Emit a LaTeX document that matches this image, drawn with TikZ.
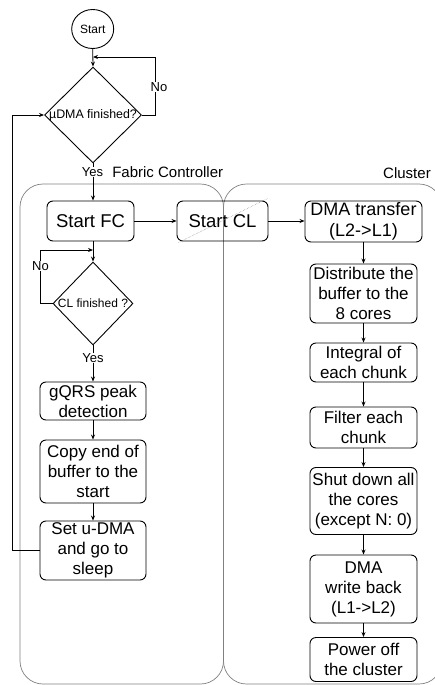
\documentclass[tikz,border=0pt]{standalone}
\usepackage{fontspec}
\setmainfont{Liberation Sans}
\usetikzlibrary{shapes.geometric,arrows.meta,calc}
\begin{document}
\begin{tikzpicture}[x=1pt,y=-1pt,
  box/.style={draw,rounded corners=6pt,line width=0.9pt,align=center,inner sep=0pt,
    font=\fontsize{17}{20}\selectfont},
  dia/.style={draw,diamond,line width=0.9pt,inner sep=0pt},
  arr/.style={-{Stealth[length=5pt,width=4pt]},line width=0.8pt},
  lbl/.style={fill=white,inner sep=0.6pt,font=\fontsize{13}{15}\selectfont},
  cont/.style={draw=black!50,line width=0.7pt,rounded corners=23pt},
  title/.style={font=\fontsize{15}{17}\selectfont,inner sep=0pt}]
\useasboundingbox (0,0) rectangle (435,685);
% containers
\draw[cont] (20,184) rectangle (223.5,684);
\draw[cont] (223.5,184) rectangle (442,684);
\node[title] (tfc) at (167.7,172) {Fabric Controller};
\node[title] (tcl) at (407,173) {Cluster};
% left column
\node[draw,ellipse,line width=0.9pt,minimum width=42pt,minimum height=39pt,inner sep=0pt,
  font=\fontsize{12}{14}\selectfont] (start) at (92.7,29) {Start};
\node[dia,minimum width=97pt,minimum height=96pt] (d1) at (93,115) {};
\node[font=\fontsize{12.4}{14}\selectfont,inner sep=0pt] (t1) at (d1) {µDMA finished?};
\node[box,minimum width=87pt,minimum height=40pt,font=\fontsize{18.5}{21}\selectfont] (sfc) at (90.5,221) {Start FC};
\node[box,minimum width=91pt,minimum height=40pt,font=\fontsize{18.5}{21}\selectfont] (scl) at (222.5,221) {Start CL};
\node[dia,minimum width=80pt,minimum height=83pt] (d2) at (93,303.5) {};
\node[font=\fontsize{12}{14}\selectfont,inner sep=0pt] (t2) at (d2) {CL finished ?};
\node[box,minimum width=106pt,minimum height=38pt] (gqrs) at (93,401) {gQRS peak\\detection};
\node[box,minimum width=106pt,minimum height=63pt] (copy) at (93,471.5) {Copy end of\\buffer to the\\start};
\node[box,minimum width=106pt,minimum height=59pt] (setu) at (93,550.5) {Set u-DMA\\and go to\\sleep};
% cluster column
\node[box,minimum width=117pt,minimum height=41pt,font=\fontsize{18}{21}\selectfont] (dma) at (363.5,221.5) {DMA transfer\\(L2->L1)};
\node[box,minimum width=107pt,minimum height=59pt] (dist) at (363.5,293.5) {Distribute the\\buffer to the\\8 cores};
\node[box,minimum width=107pt,minimum height=39pt] (integ) at (363.5,362.5) {Integral of\\each chunk};
\node[box,minimum width=107pt,minimum height=41pt] (filt) at (363.5,427.5) {Filter each\\chunk};
\node[box,minimum width=107pt,minimum height=67pt] (shut) at (363.5,501) {Shut down all\\the cores\\(except N: 0)};
\node[box,minimum width=107pt,minimum height=68pt] (wb) at (363.5,589) {DMA\\write back\\(L1->L2)};
\node[box,minimum width=107pt,minimum height=44pt] (pow) at (363.5,659.5) {Power off\\the cluster};
% dotted diagonal in Start CL
\draw[black!45,densely dotted,line width=0.5pt] ($(scl.south west)+(2,1)$) -- ($(scl.north east)+(-1,-2)$);
% connectors
\coordinate (n1) at (155,57);
\coordinate (j1) at (93,57);
\coordinate (l1) at (12,115);
\coordinate (n2) at (40.5,250);
\coordinate (j2) at (93,250);
\draw[arr] (start.south) -- (d1.north);
\draw[arr] (d1.east) -| (n1) -- (j1);
\node[lbl] (no1) at (159,87) {No};
\draw[arr] (d1.south) -- (d1.south |- sfc.north);
\node[lbl] (yes1) at (92.5,172) {Yes};
\draw[arr] (sfc.east) -- (scl.west);
\draw[arr] (scl.east) -- (scl.east -| dma.west);
\draw[arr] (d2.north |- sfc.south) -- (d2.north);
\draw[arr] (d2.west) -| (n2) -- (j2);
\node[lbl] (no2) at (40.5,266) {No};
\draw[arr] (d2.south) -- (gqrs.north);
\node[lbl] (yes2) at (93,358) {Yes};
\draw[arr] (gqrs) -- (copy);
\draw[arr] (copy) -- (setu);
\draw[arr] (setu.west) -| (l1) -- (d1.west);
\draw[arr] (dma.south) -- (dma.south |- dist.north);
\draw[arr] (dist) -- (integ);
\draw[arr] (integ) -- (filt);
\draw[arr] (filt) -- (shut);
\draw[arr] (shut) -- (wb);
\draw[arr] (wb) -- (pow);
\end{tikzpicture}
\end{document}
